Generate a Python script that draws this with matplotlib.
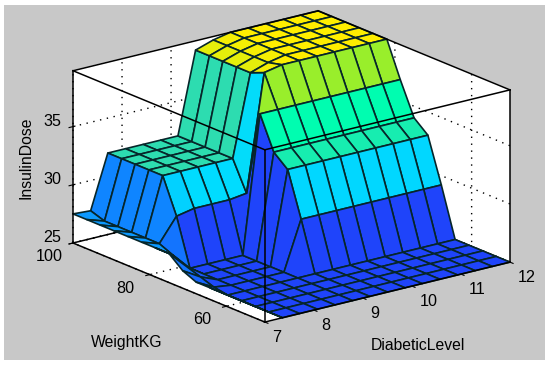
import numpy as np
import matplotlib
matplotlib.use('Agg')
import matplotlib.pyplot as plt
from matplotlib.colors import LinearSegmentedColormap
from matplotlib.patches import Rectangle
from mpl_toolkits.mplot3d import proj3d

diabetic_level = [7.00, 7.36, 7.71, 8.07, 8.43, 8.79, 9.14, 9.50, 9.86, 10.21, 10.57, 10.93, 11.29, 11.64, 12.00]
weight_kg = [50.0, 53.6, 57.1, 60.7, 64.3, 67.9, 71.4, 75.0, 78.6, 82.1, 85.7, 89.3, 92.9, 96.4, 100.0]
# rows: one per DiabeticLevel, columns: one per WeightKG
high_row = [25, 25, 25, 25, 25, 29.2, 33, 34, 36.8, 39.8, 39.8, 39.8, 39.8, 39.8, 39.8]
insulin_dose = [
    [26, 26, 26, 26, 26, 26, 26.5, 27.5, 27.5, 27.5, 27.5, 27.5, 27.5, 27.5, 27.5],
    [25, 25, 25, 25, 25, 25.2, 25.6, 26, 26.5, 27, 27, 27, 27, 27, 27.4],
    [25, 25, 25, 25, 25, 25, 25, 25, 25, 29, 32, 32, 32, 32, 32],
    [25, 25, 25, 25, 25, 25, 25, 25, 25, 29.3, 32, 32, 32, 32, 32],
    [25, 25, 25, 25, 25, 25, 25, 25, 25, 29.3, 32, 32, 32, 32, 32],
    [25, 25, 25, 25, 25, 25, 25, 25, 25, 29.3, 32, 32, 32, 32, 32],
    [25, 25, 25, 25, 25, 29.2, 33, 34, 36.8, 29.5, 32, 32, 32, 32, 32],
    [25, 25, 25, 25, 25, 29.2, 33, 34, 36.8, 39.5, 39, 39, 39, 39, 39],
    [25, 25, 25, 25, 25, 29.2, 33, 34, 36.8, 39.8, 39.5, 39.5, 39.5, 39.5, 39.5],
    high_row, high_row, high_row, high_row, high_row, high_row,
]
x_ticks = [7, 8, 9, 10, 11, 12]
y_ticks = [60, 80, 100]
z_ticks = [25, 30, 35]
x_range = (7, 12)
y_range = (50, 100)
z_range = (25, 39.8)
dose_stops = [25, 27, 29.3, 32, 34, 36.8, 39.8]
dose_colors = ['#1f44fa', '#0f86ff', '#00dcff', '#2edcb0', '#00fdb0', '#98ee2c', '#ffee00']

plt.rcParams['font.family'] = ['Liberation Sans', 'DejaVu Sans']
plt.rcParams['font.size'] = 11
plt.rcParams['grid.linestyle'] = (0, (1, 4))
plt.rcParams['grid.color'] = 'black'
plt.rcParams['grid.linewidth'] = 1.0

W, H = 550, 366
fig = plt.figure(figsize=(W / 100, H / 100), dpi=100, facecolor='white')
fig.add_artist(Rectangle((4 / W, 1 - 360 / H), 541 / W, 355 / H, transform=fig.transFigure,
                         facecolor='#c8c8c8', edgecolor='none', zorder=-1))

ax = fig.add_axes([0, 0, 1, 1], projection='3d', proj_type='ortho', computed_zorder=False)
ax.patch.set_alpha(0)
ax.view_init(elev=18.5, azim=-127.6)
aspect = (309, 314, 181.4)
ax.set_xlim(*x_range)
ax.set_ylim(*y_range)
ax.set_zlim(*z_range)
ax.margins(0)

def corner_px(x, y, z):
    ax.apply_aspect()
    a, b, _ = proj3d.proj_transform(x, y, z, ax.get_proj())
    return ax.transData.transform((a, b))

# fit the box onto the reference: left corner (73,243), right corner (510,262) in image pixels
ax.set_box_aspect(aspect, zoom=1)
ax.set_xlim(*x_range); ax.set_ylim(*y_range); ax.set_zlim(*z_range)
p0 = corner_px(7, 100, 25); p1 = corner_px(12, 50, 25)
zoom = 437 / (p1[0] - p0[0])
ax.set_box_aspect(aspect, zoom=zoom)
p0 = corner_px(7, 100, 25)
dx = (73 - p0[0]) / W
dy = ((H - 243) - p0[1]) / H
ax.set_position([dx, dy, 1, 1])

cmap = LinearSegmentedColormap.from_list(
    'dose', [((s - dose_stops[0]) / (dose_stops[-1] - dose_stops[0]), c) for s, c in zip(dose_stops, dose_colors)])
Xg, Yg = np.meshgrid(diabetic_level, weight_kg, indexing='ij')
Zg = np.array(insulin_dose, dtype=float)
fc = cmap((Zg - dose_stops[0]) / (dose_stops[-1] - dose_stops[0]))
surf = ax.plot_surface(Xg, Yg, Zg, facecolors=fc, rstride=1, cstride=1, shade=False,
                       edgecolor='#06262a', linewidth=1.2, antialiased=True, zorder=2)
surf.set_clip_on(False)

x0, x1 = x_range; y0, y1 = y_range; z0, z1 = z_range
behind = [((x0, x1), (y1, y1), (z0, z0)), ((x1, x1), (y0, y1), (z0, z0)), ((x1, x1), (y1, y1), (z0, z1))]
front = [((x0, x1), (y0, y0), (z0, z0)), ((x0, x0), (y0, y1), (z0, z0)),
         ((x0, x0), (y1, y1), (z0, z1)), ((x1, x1), (y0, y0), (z0, z1)),
         ((x0, x1), (y1, y1), (z1, z1)), ((x1, x1), (y0, y1), (z1, z1)),
         ((x0, x1), (y0, y0), (z1, z1)), ((x0, x0), (y0, y1), (z1, z1)),
         ((x0, x0), (y0, y0), (z0, z1))]
for e in behind:
    ax.plot(*e, color='black', lw=1.1, zorder=1, clip_on=False)
for e in front:
    ax.plot(*e, color='black', lw=1.1, zorder=5, clip_on=False)

for axis in (ax.xaxis, ax.yaxis, ax.zaxis):
    axis.set_pane_color('white')
    axis.pane.set_edgecolor('white')
    axis.line.set_color((0, 0, 0, 0))
ax.set_xticks(x_ticks, [''] * len(x_ticks))
ax.set_yticks(y_ticks, [''] * len(y_ticks))
ax.set_zticks(z_ticks, [''] * len(z_ticks))

# tick labels placed relative to where each tick projects (offsets in pixels: right, up)
def tick_label(point, text, ox, oy, ha):
    px, py = corner_px(*point)
    fig.text((px + ox) / W, (py + oy) / H, text, ha=ha, va='center', fontsize=11.6)

for t in x_ticks:
    tick_label((t, y0, z0), str(t), 7.5, -15, 'left')
for t in y_ticks:
    tick_label((x0, t, z0), str(t), -24, -13.5, 'center')
for t in z_ticks:
    tick_label((x0, y1, t), str(t), -21, 5, 'center')

fig.text(418 / W, 1 - 346 / H, 'DiabeticLevel', ha='center', va='center', fontsize=11.3)
fig.text(127 / W, 1 - 343 / H, 'WeightKG', ha='center', va='center', fontsize=11.3)
fig.text(26 / W, 1 - 158 / H, 'InsulinDose', ha='center', va='center', rotation=90, fontsize=11.3)

fig.savefig('out.png', dpi=100)
